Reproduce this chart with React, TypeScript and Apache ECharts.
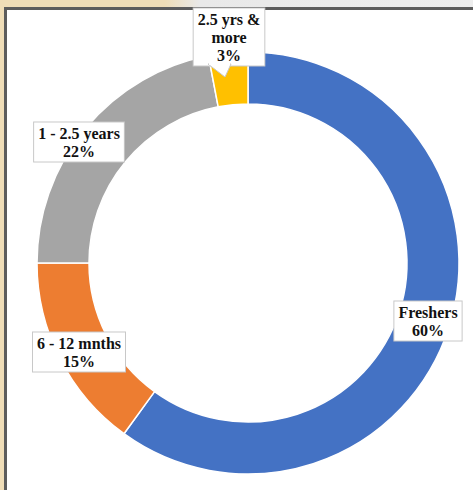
import React, { useEffect, useRef } from "react";
import * as echarts from "echarts";

const categories = ["Freshers", "6 - 12 mnths", "1 - 2.5 years", "2.5 yrs & more"];
const values = [60, 15, 22, 3];
const colors = ["#4472C4", "#ED7D31", "#A5A5A5", "#FFC000"];
// label centre positions (layout only)
const labelPos = [
  [428, 321],
  [79, 352],
  [79, 142],
  [229, 37],
];

export default function App() {
  const ref = useRef<HTMLDivElement>(null);
  useEffect(() => {
    if (!ref.current) return;
    const chart = echarts.init(ref.current, undefined, { renderer: "svg" });
    chart.setOption({
      animation: false,
      backgroundColor: "transparent",
      graphic: [
        {
          type: "polygon",
          z: 100,
          shape: { points: [[208, 64], [231, 64], [225, 77]] },
          style: { fill: "#ffffff", stroke: "#c8c8c8", lineWidth: 1 },
        },
        {
          type: "line",
          z: 101,
          shape: { x1: 209, y1: 64, x2: 230, y2: 64 },
          style: { stroke: "#ffffff", lineWidth: 2 },
        },
      ],
      series: [
        {
          type: "pie",
          center: [248, 263],
          radius: [159, 211],
          startAngle: 90,
          clockwise: true,
          avoidLabelOverlap: false,
          itemStyle: { borderColor: "#ffffff", borderWidth: 1.5 },
          label: {
            show: true,
            position: "inside",
            formatter: (p: any) => `${p.name.replace("& ", "&\n")}\n${p.value}%`,
            fontFamily: "Liberation Serif",
            fontWeight: "bold",
            fontSize: 16,
            lineHeight: 18,
            color: "#111111",
            backgroundColor: "#ffffff",
            borderColor: "#c8c8c8",
            borderWidth: 1,
            padding: [2, 4, 1, 4],
            align: "center",
          },
          labelLine: { show: false },
          labelLayout: (params: any) => {
            const p = labelPos[params.dataIndex];
            return { x: p[0], y: p[1], align: "center", verticalAlign: "middle" };
          },
          emphasis: { disabled: true },
          data: categories.map((c, i) => ({
            name: c,
            value: values[i],
            itemStyle: { color: colors[i] },
          })),
        },
      ],
    });
    return () => chart.dispose();
  }, []);
  return (
    <div
      style={{
        position: "fixed",
        left: 0,
        top: 0,
        width: 473,
        height: 490,
        background: "linear-gradient(90deg, #EFDDB7 0px, #EFDDB7 165px, #E9E9E9 200px, #EDEDED 473px)",
        overflow: "hidden",
      }}
    >
      <div
        style={{
          position: "absolute",
          left: 0,
          top: 8,
          width: 473,
          height: 482,
          background: "#EFDDB7",
        }}
      />
      <div
        style={{
          position: "absolute",
          left: 4,
          top: 7,
          width: 469,
          height: 483,
          background: "#ffffff",
          borderLeft: "3px solid #5c5c5c",
          borderTop: "3px solid #5c5c5c",
          boxSizing: "border-box",
        }}
      />
      <div ref={ref} style={{ position: "absolute", left: 0, top: 0, width: 473, height: 490 }} />
    </div>
  );
}
